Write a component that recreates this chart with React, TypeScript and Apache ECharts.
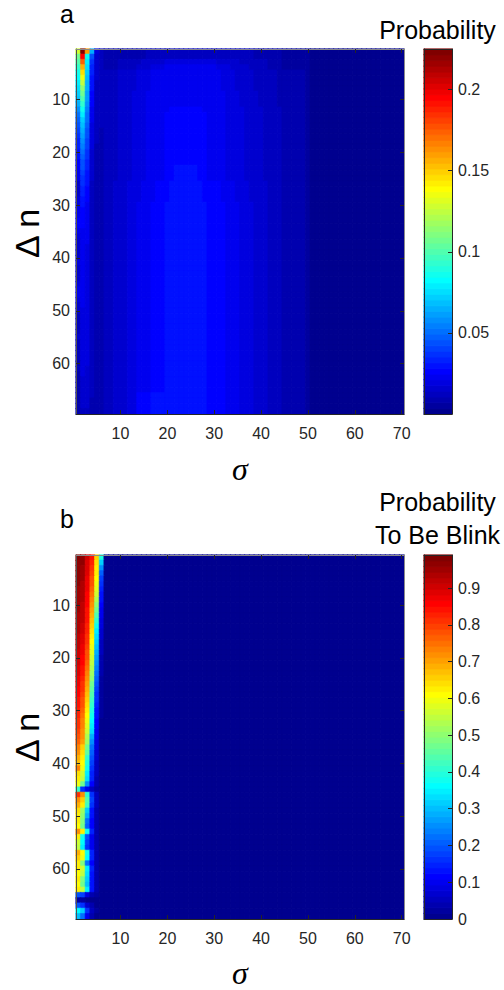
import React, { useEffect, useRef } from "react";
import * as echarts from "echarts";

// ---------------- categories & ticks ----------------
const SIGMA_CATEGORIES = Array.from({ length: 70 }, (_, i) => String(i + 1));
const DELTA_N_CATEGORIES = Array.from({ length: 69 }, (_, i) => String(i + 1));
const X_TICK_LABELS = [10, 20, 30, 40, 50, 60, 70];
const Y_TICK_LABELS = [10, 20, 30, 40, 50, 60];
const CBAR_A_TICKS = [0.05, 0.1, 0.15, 0.2];
const CBAR_B_TICKS = [0, 0.1, 0.2, 0.3, 0.4, 0.5, 0.6, 0.7, 0.8, 0.9];
const A_RANGE = [0, 0.225];
const B_RANGE = [0, 0.99];
const N_LEVELS = 64; // MATLAB jet(64)

// ---------------- panel a data (colour level 0..63 per cell) ----------------
// σ = 1..6, one row per Δn = 1..69
const A_LEFT: number[][] = [
  [36, 63, 45, 18, 5, 3], [30, 55, 24, 12, 4, 3], [28, 49, 22, 10, 4, 3], [26, 44, 21, 9, 4, 3],
  [24, 41, 20, 9, 4, 3], [23, 38, 19, 8, 4, 3], [22, 35, 18, 8, 3, 3], [21, 32, 18, 8, 3, 3],
  [20, 30, 17, 7, 3, 3], [19, 28, 17, 7, 3, 3], [18, 26, 16, 7, 3, 3], [16, 24, 15, 6, 3, 3],
  [14, 22, 14, 6, 3, 3], [13, 20, 14, 6, 3, 3], [12, 19, 13, 5, 3, 3], [11, 18, 12, 5, 3, 2],
  [10, 17, 12, 5, 3, 2], [9, 16, 11, 5, 3, 2], [9, 15, 11, 5, 2, 2], [8, 14, 10, 4, 2, 2],
  [8, 13, 10, 4, 2, 2], [7, 12, 9, 4, 2, 2], [7, 12, 9, 4, 2, 2], [6, 11, 8, 4, 2, 2],
  [6, 10, 8, 4, 2, 2], [4, 10, 8, 3, 2, 2], [4, 9, 7, 3, 2, 2], [4, 9, 7, 3, 2, 2],
  [5, 8, 7, 3, 2, 2], [5, 8, 6, 3, 2, 2], [6, 7, 6, 3, 2, 2], [6, 7, 6, 3, 2, 2],
  [7, 7, 6, 3, 2, 2], [7, 7, 6, 3, 2, 2], [6, 6, 6, 3, 2, 2], [5, 6, 6, 3, 2, 2],
  [4, 6, 6, 3, 2, 2], [4, 6, 5, 3, 2, 2], [4, 6, 5, 3, 2, 2], [4, 6, 5, 3, 2, 2],
  [5, 6, 5, 3, 2, 2], [4, 6, 5, 3, 2, 2], [4, 6, 5, 3, 2, 2], [4, 6, 5, 3, 2, 2],
  [5, 6, 5, 3, 2, 2], [6, 6, 5, 3, 2, 2], [6, 6, 5, 3, 2, 2], [5, 6, 5, 3, 2, 2],
  [4, 6, 5, 3, 2, 2], [4, 5, 5, 3, 2, 2], [3, 5, 5, 3, 2, 2], [3, 5, 5, 3, 2, 2],
  [3, 5, 5, 3, 2, 2], [3, 5, 5, 3, 2, 2], [4, 5, 5, 3, 2, 2], [3, 5, 5, 3, 2, 2],
  [3, 5, 5, 3, 2, 2], [3, 5, 5, 3, 2, 2], [3, 5, 5, 3, 2, 2], [2, 5, 5, 3, 2, 2],
  [3, 5, 4, 3, 2, 2], [2, 5, 4, 3, 2, 2], [2, 4, 4, 3, 2, 2], [2, 4, 4, 3, 2, 2],
  [2, 4, 4, 3, 2, 2], [2, 4, 4, 3, 2, 2], [2, 4, 4, 2, 2, 2], [2, 4, 4, 2, 2, 2],
  [2, 3, 3, 2, 2, 2],
];
// σ = 7..70 as runs [level, count]
const A_BODY_PROFILES: Record<string, number[][]> = {
  TOP: [[2, 9], [3, 23], [2, 6], [1, 6], [0, 20]],
  R3: [[2, 3], [3, 5], [4, 5], [5, 11], [4, 5], [3, 6], [2, 3], [1, 6], [0, 20]],
  R4: [[2, 3], [3, 4], [4, 3], [5, 3], [6, 11], [5, 3], [4, 4], [3, 4], [2, 3], [1, 6], [0, 20]],
  R5: [[3, 3], [4, 4], [5, 3], [6, 15], [5, 3], [4, 4], [3, 5], [2, 6], [1, 1], [0, 20]],
  R9: [[3, 3], [4, 3], [5, 3], [6, 17], [5, 3], [4, 4], [3, 4], [2, 6], [1, 1], [0, 20]],
  R12: [[3, 3], [4, 3], [5, 3], [6, 5], [7, 7], [6, 5], [5, 4], [4, 4], [3, 4], [2, 5], [1, 1], [0, 20]],
  RM: [[3, 3], [4, 3], [5, 3], [6, 4], [7, 9], [6, 4], [5, 4], [4, 4], [3, 4], [2, 5], [1, 1], [0, 20]],
  RM8: [[3, 3], [4, 3], [5, 3], [6, 4], [7, 2], [8, 5], [7, 2], [6, 4], [5, 4], [4, 4], [3, 4], [2, 5], [1, 1], [0, 20]],
  RT: [[3, 2], [4, 3], [5, 3], [6, 3], [7, 3], [8, 7], [7, 4], [6, 3], [5, 3], [4, 4], [3, 3], [2, 5], [1, 1], [0, 20]],
  RL: [[3, 2], [4, 3], [5, 2], [6, 3], [7, 3], [8, 9], [7, 4], [6, 3], [5, 3], [4, 3], [3, 3], [2, 5], [1, 1], [0, 20]],
  RB: [[3, 2], [4, 3], [5, 2], [7, 3], [8, 12], [7, 4], [6, 3], [5, 3], [4, 3], [3, 3], [2, 5], [1, 1], [0, 20]],
};
// which profile each Δn row uses: [profile, number of rows]
const A_BODY_ROWS: [string, number][] = [
  ["TOP", 2], ["R3", 1], ["R4", 1], ["R5", 4], ["R9", 3], ["R12", 1], ["RM", 10],
  ["RM8", 3], ["RT", 4], ["RL", 36], ["RB", 4],
];

// ---------------- panel b data (colour level 0..63) ----------------
// σ = 1..6 per Δn row; σ = 7..70 are level 0
const B_LEFT: number[][] = [
  [63, 62, 58, 54, 42, 25], [62, 62, 57, 53, 41, 20], [62, 61, 57, 52, 40, 16], [62, 61, 57, 51, 40, 13],
  [62, 61, 56, 50, 39, 11], [62, 60, 56, 50, 38, 10], [61, 60, 56, 49, 37, 9], [61, 60, 55, 48, 36, 8],
  [61, 60, 55, 47, 34, 8], [61, 59, 55, 46, 32, 7], [61, 59, 54, 45, 30, 6], [60, 59, 54, 44, 28, 6],
  [60, 59, 54, 43, 26, 5], [60, 58, 53, 42, 24, 5], [60, 58, 53, 41, 22, 4], [59, 57, 52, 40, 21, 4],
  [59, 57, 52, 39, 20, 3], [59, 56, 51, 38, 19, 3], [58, 56, 50, 37, 18, 3], [58, 55, 50, 36, 17, 2],
  [58, 55, 49, 35, 16, 2], [57, 54, 48, 34, 15, 2], [57, 54, 47, 33, 14, 2], [56, 53, 46, 32, 13, 1],
  [56, 52, 45, 30, 12, 1], [55, 52, 44, 29, 11, 1], [55, 51, 43, 28, 10, 1], [54, 50, 42, 27, 10, 1],
  [54, 50, 41, 26, 9, 1], [53, 49, 40, 25, 8, 1], [53, 48, 39, 24, 8, 1], [52, 47, 38, 23, 7, 0],
  [52, 47, 37, 22, 7, 0], [51, 46, 36, 21, 6, 0], [50, 46, 34, 18, 6, 0], [49, 45, 33, 16, 5, 0],
  [47, 42, 30, 14, 5, 0], [46, 41, 29, 13, 4, 0], [44, 40, 26, 12, 4, 0], [43, 39, 25, 11, 3, 0],
  [47, 38, 24, 10, 3, 0], [41, 36, 22, 9, 3, 0], [40, 35, 21, 9, 2, 0], [38, 30, 16, 7, 2, 0],
  [26, 10, 6, 3, 1, 0], [52, 46, 26, 10, 3, 0], [46, 42, 28, 11, 3, 0], [44, 40, 27, 10, 3, 0],
  [41, 33, 20, 8, 2, 0], [40, 32, 18, 8, 2, 0], [40, 31, 14, 7, 2, 0], [39, 30, 13, 7, 2, 0],
  [46, 40, 24, 9, 2, 0], [40, 24, 12, 6, 2, 0], [36, 23, 11, 6, 2, 0], [35, 22, 10, 6, 2, 0],
  [44, 39, 24, 9, 2, 0], [42, 38, 23, 9, 2, 0], [40, 31, 14, 7, 2, 0], [40, 36, 22, 9, 2, 0],
  [39, 35, 21, 8, 2, 0], [40, 31, 20, 8, 2, 0], [39, 30, 19, 8, 2, 0], [40, 35, 22, 8, 2, 0],
  [12, 11, 5, 2, 1, 0], [1, 1, 0, 0, 0, 0], [12, 10, 4, 2, 0, 0], [23, 20, 10, 3, 1, 0],
  [19, 14, 6, 2, 0, 0],
];

// ---------------- helpers ----------------
const FONT = '"Liberation Sans", Arial, Helvetica, sans-serif';
const SERIF = '"Liberation Serif", "Times New Roman", serif';
const TXT = "#262626";
const AX = "#262626";
const AX_LIGHT = "#8a8a8a";

function jet(k: number): string {
  const u = (i: number) => (i <= 16 ? i / 16 : i <= 31 ? 1 : (48 - i) / 16);
  const K = k + 1;
  const r = K >= 25 && K - 24 <= 47 ? u(K - 24) : 0;
  const g = K >= 9 && K - 8 <= 47 ? u(K - 8) : 0;
  const b = K + 8 <= 47 ? u(K + 8) : 0;
  return `rgb(${Math.round(r * 255)},${Math.round(g * 255)},${Math.round(b * 255)})`;
}
const levelToValue = (L: number, max: number) => ((L + 0.5) / N_LEVELS) * max;
// the visualMap gives the fill; a thin border of the same colour closes sub-pixel seams
const cell = (c: number, r: number, L: number, max: number) => ({
  value: [c, r, levelToValue(L, max)],
  itemStyle: { borderColor: jet(L), borderWidth: 0.6 },
});

function buildA() {
  const body: number[][][] = [];
  A_BODY_ROWS.forEach(([name, n]) => {
    for (let k = 0; k < n; k++) body.push(A_BODY_PROFILES[name]);
  });
  const out: any[] = [];
  for (let r = 0; r < DELTA_N_CATEGORIES.length; r++) {
    const lv: number[] = [...A_LEFT[r]];
    for (const [l, c] of body[r]) for (let k = 0; k < c; k++) lv.push(l);
    for (let c = 0; c < SIGMA_CATEGORIES.length; c++) out.push(cell(c, r, lv[c] ?? 0, A_RANGE[1]));
  }
  return out;
}
function buildB() {
  const out: any[] = [];
  for (let r = 0; r < DELTA_N_CATEGORIES.length; r++) {
    for (let c = 0; c < SIGMA_CATEGORIES.length; c++) {
      const L = c < B_LEFT[r].length ? B_LEFT[r][c] : 0;
      out.push(cell(c, r, L, B_RANGE[1]));
    }
  }
  return out;
}
const LEVEL_CATS = Array.from({ length: N_LEVELS }, (_, i) => String(i));
const cbarData = (max: number) => LEVEL_CATS.map((_, L) => cell(0, L, L, max));
const pieces = (max: number) =>
  LEVEL_CATS.map((_, k) =>
    k === N_LEVELS - 1
      ? { gte: (k * max) / N_LEVELS, lte: max * 1.01, color: jet(k) }
      : { gte: (k * max) / N_LEVELS, lt: ((k + 1) * max) / N_LEVELS, color: jet(k) }
  );

const tickSel = (list: number[]) => (_i: number, v: string) => list.includes(Number(v));

function mainX(grid: number, pos: "bottom" | "top") {
  const bottom = pos === "bottom";
  return {
    type: "category", gridIndex: grid, position: pos, data: SIGMA_CATEGORIES, z: 10,
    axisLine: { show: true, onZero: false, lineStyle: { color: bottom ? AX : AX_LIGHT, width: 1 } },
    axisTick: { show: true, inside: true, length: 4, alignWithLabel: true, interval: tickSel(X_TICK_LABELS), lineStyle: { color: AX } },
    axisLabel: { show: bottom, interval: tickSel(X_TICK_LABELS), margin: 11, fontSize: 16, fontFamily: FONT, color: TXT },
    splitLine: { show: false },
  };
}
function mainY(grid: number, pos: "left" | "right") {
  const left = pos === "left";
  return {
    type: "category", gridIndex: grid, position: pos, data: DELTA_N_CATEGORIES, inverse: true, z: 10,
    axisLine: { show: true, onZero: false, lineStyle: { color: left ? "#505050" : AX_LIGHT, width: 1 } },
    axisTick: { show: true, inside: true, length: 4, alignWithLabel: true, interval: tickSel(Y_TICK_LABELS), lineStyle: { color: AX } },
    axisLabel: { show: left, interval: tickSel(Y_TICK_LABELS), margin: 6, fontSize: 16, fontFamily: FONT, color: TXT },
    splitLine: { show: false },
  };
}
function cbX(grid: number, pos: "bottom" | "top") {
  return {
    type: "category", gridIndex: grid, position: pos, data: ["cb"], z: 10,
    axisLine: { show: true, onZero: false, lineStyle: { color: AX, width: 1 } },
    axisTick: { show: false }, axisLabel: { show: false }, splitLine: { show: false },
  };
}
function cbYcat(grid: number) {
  return {
    type: "category", gridIndex: grid, position: "left", data: LEVEL_CATS, z: 10,
    axisLine: { show: true, onZero: false, lineStyle: { color: AX, width: 1 } },
    axisTick: { show: false }, axisLabel: { show: false }, splitLine: { show: false },
  };
}
function cbYval(grid: number, range: number[], interval: number, ticks: number[]) {
  return {
    type: "value", gridIndex: grid, position: "right", min: range[0], max: range[1], interval, z: 10,
    axisLine: { show: true, onZero: false, lineStyle: { color: AX, width: 1 } },
    axisTick: { show: true, inside: true, length: 4, lineStyle: { color: AX } },
    axisLabel: {
      show: true, margin: 6, fontSize: 16, fontFamily: FONT, color: TXT,
      formatter: (v: number) => {
        const t = ticks.find((x) => Math.abs(x - v) < 1e-6);
        return t === undefined ? "" : String(t);
      },
    },
    splitLine: { show: false },
  };
}
function label(text: string, x: number, y: number, size: number, align: string, family = FONT, extra: any = {}) {
  const { italic, ...rest } = extra;
  return {
    type: "text", x, y, z: 20, ...rest,
    style: {
      text, fill: "#000", fontSize: size, fontFamily: family, fontStyle: italic ? "italic" : "normal",
      textAlign: align, align, textVerticalAlign: "middle", verticalAlign: "middle",
    },
  };
}

export default function App() {
  const ref = useRef<HTMLDivElement>(null);
  useEffect(() => {
    if (!ref.current) return;
    const chart = echarts.init(ref.current, undefined, { renderer: "svg" });
    const hm = (xi: number, yi: number, data: any[]) => ({
      type: "heatmap", xAxisIndex: xi, yAxisIndex: yi, data, progressive: 0, emphasis: { disabled: true },
    });
    const option: any = {
      animation: false,
      backgroundColor: "#fff",
      grid: [
        { left: 76, top: 49, width: 328, height: 365 },
        { left: 424, top: 49, width: 28, height: 365 },
        { left: 76, top: 555, width: 328, height: 364 },
        { left: 424, top: 555, width: 28, height: 364 },
      ],
      xAxis: [mainX(0, "bottom"), mainX(0, "top"), cbX(1, "bottom"), cbX(1, "top"), mainX(2, "bottom"), mainX(2, "top"), cbX(3, "bottom"), cbX(3, "top")],
      yAxis: [mainY(0, "left"), mainY(0, "right"), cbYcat(1), cbYval(1, A_RANGE, 0.05, CBAR_A_TICKS), mainY(2, "left"), mainY(2, "right"), cbYcat(3), cbYval(3, B_RANGE, 0.1, CBAR_B_TICKS)],
      visualMap: [
        { type: "piecewise", show: false, seriesIndex: [0, 1], dimension: 2, pieces: pieces(A_RANGE[1]) },
        { type: "piecewise", show: false, seriesIndex: [2, 3], dimension: 2, pieces: pieces(B_RANGE[1]) },
      ],
      series: [
        hm(0, 0, buildA()),
        hm(2, 2, cbarData(A_RANGE[1])),
        hm(4, 4, buildB()),
        hm(6, 6, cbarData(B_RANGE[1])),
      ],
      graphic: [
        label("a", 60, 14.3, 25, "left"),
        label("Probability", 437.5, 30.3, 25, "center"),
        label("b", 60, 518.8, 25, "left"),
        label("Probability", 437.5, 502, 25, "center"),
        label("To Be Blink", 437.5, 534.6, 25, "center"),
        label("Δ n", 26.5, 233.5, 34, "center", FONT, { rotation: Math.PI / 2 }),
        label("Δ n", 26.5, 737.5, 34, "center", FONT, { rotation: Math.PI / 2 }),
        label("σ", 240, 469, 32, "center", SERIF, { italic: true }),
        label("σ", 240, 972.5, 32, "center", SERIF, { italic: true }),
      ],
    };
    chart.setOption(option);
    return () => chart.dispose();
  }, []);
  return <div ref={ref} style={{ position: "absolute", left: 0, top: 0, width: 504, height: 990 }} />;
}
